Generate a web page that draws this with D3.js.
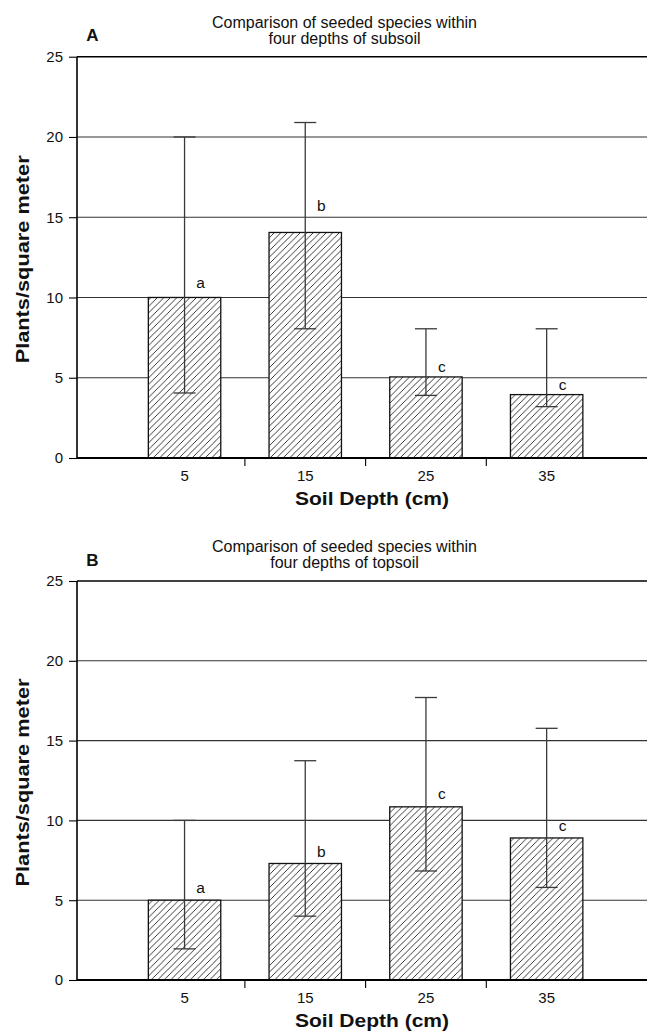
<!DOCTYPE html>
<html>
<head>
<meta charset="utf-8">
<script src="https://cdn.jsdelivr.net/npm/d3@7"></script>
<style>
  html, body { margin: 0; padding: 0; background: #fff; }
  svg { display: block; }
  text { font-family: "Liberation Sans", Arial, Helvetica, sans-serif; fill: #111; }
</style>
</head>
<body>
<svg id="chart" width="647" height="1036"></svg>
<script>
// ---------- data ----------
const depths = ["5", "15", "25", "35"];
const yTicks = [0, 5, 10, 15, 20, 25];

const subsoilMeans  = [10, 14.05, 5.05, 3.95];
const subsoilLow    = [4.05, 8.05, 3.9, 3.2];
const subsoilHigh   = [20, 20.9, 8.05, 8.05];
const subsoilLetters = ["a", "b", "c", "c"];
const subsoilLetterY = [10.95, 15.75, 5.7, 4.55];

const topsoilMeans  = [5, 7.3, 10.85, 8.9];
const topsoilLow    = [1.95, 4.0, 6.83, 5.8];
const topsoilHigh   = [10, 13.74, 17.7, 15.77];
const topsoilLetters = ["a", "b", "c", "c"];
const topsoilLetterY = [5.8, 8.05, 11.65, 9.65];

const panels = [
  { tag: "A", title: ["Comparison of seeded species within", "four depths of subsoil"],
    means: subsoilMeans, low: subsoilLow, high: subsoilHigh, letters: subsoilLetters, letterY: subsoilLetterY,
    top: 56.7, bottom: 458 },
  { tag: "B", title: ["Comparison of seeded species within", "four depths of topsoil"],
    means: topsoilMeans, low: topsoilLow, high: topsoilHigh, letters: topsoilLetters, letterY: topsoilLetterY,
    top: 581, bottom: 980 }
];

// ---------- layout ----------
const svg = d3.select("#chart");
const plotLeft = 77, plotRight = 647;

const defs = svg.append("defs");
const hs = 6.5;
const pat = defs.append("pattern")
  .attr("id", "hatch").attr("patternUnits", "userSpaceOnUse")
  .attr("width", hs).attr("height", hs);
pat.append("rect").attr("width", hs).attr("height", hs).attr("fill", "#fff");
pat.append("path").attr("d", `M0,${hs} L${hs},0 M-1,1 L1,-1 M${hs - 1},${hs + 1} L${hs + 1},${hs - 1}`)
  .attr("stroke", "#222").attr("stroke-width", 0.9);

const x = d3.scaleBand().domain(depths).range([124.2, 607]).paddingInner(0.4).paddingOuter(0.2);

panels.forEach(p => {
  const g = svg.append("g");
  const y = d3.scaleLinear().domain([0, 25]).range([p.bottom, p.top]);

  // gridlines
  g.selectAll("line.grid").data(yTicks.filter(t => t > 0)).join("line")
    .attr("class", "grid")
    .attr("x1", plotLeft).attr("x2", plotRight)
    .attr("y1", d => y(d)).attr("y2", d => y(d))
    .attr("stroke", d => d === 25 ? "#000" : "#333")
    .attr("stroke-width", d => d === 25 ? 1.6 : 1.1);

  // bars
  const data = depths.map((d, i) => ({ d, m: p.means[i], lo: p.low[i], hi: p.high[i], L: p.letters[i], ly: p.letterY[i] }));
  g.selectAll("rect.bar").data(data).join("rect")
    .attr("class", "bar")
    .attr("x", d => x(d.d)).attr("width", x.bandwidth())
    .attr("y", d => y(d.m)).attr("height", d => y(0) - y(d.m))
    .attr("fill", "url(#hatch)").attr("stroke", "#111").attr("stroke-width", 1.3);

  // error bars
  const cx = d => x(d.d) + x.bandwidth() / 2;
  const cap = 11;
  g.selectAll("line.err").data(data).join("line")
    .attr("x1", cx).attr("x2", cx)
    .attr("y1", d => y(d.lo)).attr("y2", d => y(d.hi))
    .attr("stroke", "#3a3a3a").attr("stroke-width", 1.3);
  g.selectAll("line.capHi").data(data).join("line")
    .attr("x1", d => cx(d) - cap).attr("x2", d => cx(d) + cap)
    .attr("y1", d => y(d.hi)).attr("y2", d => y(d.hi))
    .attr("stroke", "#3a3a3a").attr("stroke-width", 1.3);
  g.selectAll("line.capLo").data(data).join("line")
    .attr("x1", d => cx(d) - cap).attr("x2", d => cx(d) + cap)
    .attr("y1", d => y(d.lo)).attr("y2", d => y(d.lo))
    .attr("stroke", "#3a3a3a").attr("stroke-width", 1.3);

  // significance letters
  g.selectAll("text.sig").data(data).join("text")
    .attr("x", d => cx(d) + 16).attr("y", d => y(d.ly))
    .attr("dy", "0.35em").attr("text-anchor", "middle")
    .attr("font-size", 15.5).text(d => d.L);

  // y axis
  const ya = g.append("g").attr("transform", `translate(${plotLeft},0)`)
    .call(d3.axisLeft(y).tickValues(yTicks).tickSize(8).tickPadding(6).tickFormat(d3.format("d")));
  ya.select(".domain").attr("stroke", "#000").attr("stroke-width", 1.6).attr("d", `M0,${p.bottom}V${p.top}`);
  ya.selectAll(".tick line").attr("stroke", "#000").attr("stroke-width", 1.1);
  ya.selectAll(".tick text").attr("font-size", 15).attr("font-family", null).attr("fill", "#111");

  // x axis
  const xa = g.append("g").attr("transform", `translate(0,${p.bottom})`)
    .call(d3.axisBottom(x).tickSize(0).tickPadding(12.5));
  xa.select(".domain").remove();
  xa.selectAll(".tick text").attr("font-size", 15).attr("font-family", null).attr("fill", "#111");
  g.append("line").attr("x1", plotLeft).attr("x2", plotRight)
    .attr("y1", p.bottom).attr("y2", p.bottom).attr("stroke", "#000").attr("stroke-width", 2);
  const seps = depths.slice(0, -1).map(d => x(d) + x.bandwidth() + x.step() * x.paddingInner() / 2);
  g.selectAll("line.sep").data(seps).join("line")
    .attr("x1", d => d).attr("x2", d => d)
    .attr("y1", p.bottom).attr("y2", p.bottom + 8)
    .attr("stroke", "#000").attr("stroke-width", 1.1);

  // axis titles
  g.append("text").attr("x", 372).attr("y", p.bottom + 46.5)
    .attr("text-anchor", "middle").attr("font-size", 18).attr("font-weight", "bold")
    .attr("textLength", 154).attr("lengthAdjust", "spacingAndGlyphs")
    .text("Soil Depth (cm)");
  const ymid = (p.top + p.bottom) / 2 + 2;
  g.append("text").attr("transform", `translate(29,${ymid}) rotate(-90)`)
    .attr("text-anchor", "middle").attr("font-size", 18).attr("font-weight", "bold")
    .attr("textLength", 208).attr("lengthAdjust", "spacingAndGlyphs")
    .text("Plants/square meter");

  // panel tag & title
  g.append("text").attr("x", 92.5).attr("y", p.top - 15.5)
    .attr("text-anchor", "middle").attr("font-size", 17).attr("font-weight", "bold").text(p.tag);
  g.append("text").attr("x", 344.5).attr("y", p.top - 29)
    .attr("text-anchor", "middle").attr("font-size", 16).text(p.title[0]);
  g.append("text").attr("x", 344.5).attr("y", p.top - 13)
    .attr("text-anchor", "middle").attr("font-size", 16).text(p.title[1]);
});
</script>
</body>
</html>
